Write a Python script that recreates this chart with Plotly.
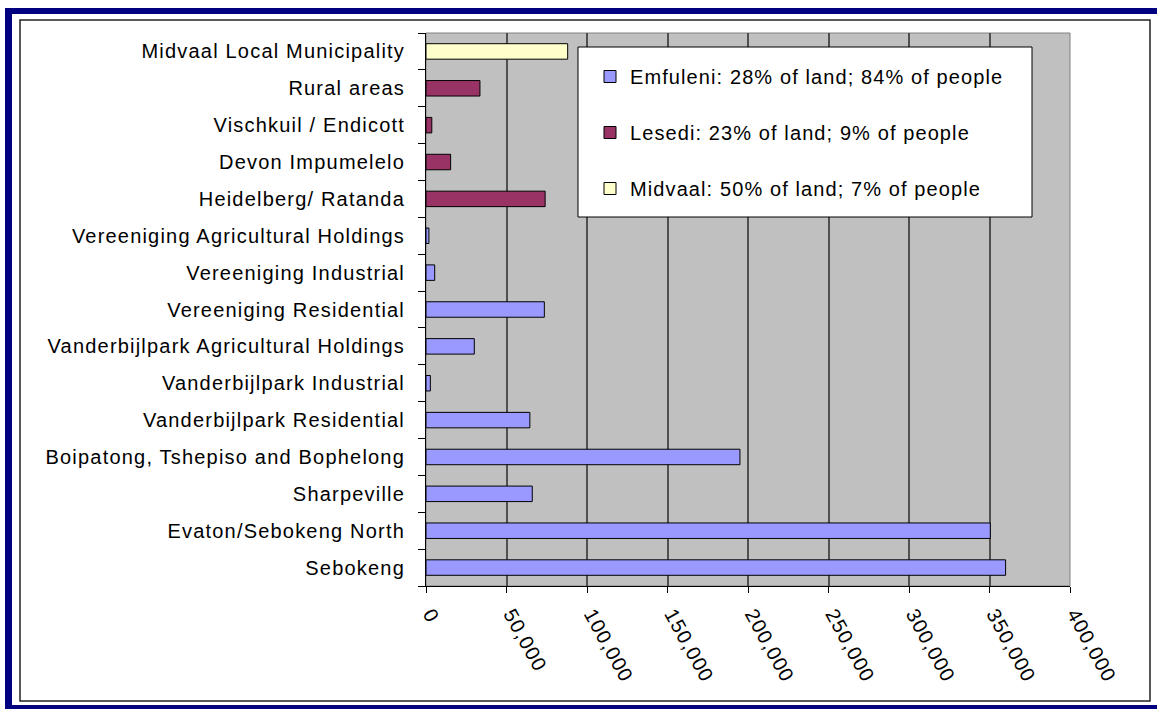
import plotly.graph_objects as go

# ---- data (bottom to top in display) ----
categories = [
    "Sebokeng",
    "Evaton/Sebokeng North",
    "Sharpeville",
    "Boipatong, Tshepiso and Bophelong",
    "Vanderbijlpark Residential",
    "Vanderbijlpark Industrial",
    "Vanderbijlpark Agricultural Holdings",
    "Vereeniging Residential",
    "Vereeniging Industrial",
    "Vereeniging Agricultural Holdings",
    "Heidelberg/ Ratanda",
    "Devon Impumelelo",
    "Vischkuil / Endicott",
    "Rural areas",
    "Midvaal Local Municipality",
]

emfuleni_cats = categories[0:10]
emfuleni_vals = [360000, 350500, 66000, 195000, 64500, 2700, 30000, 73500, 5400, 1800]

lesedi_cats = categories[10:14]
lesedi_vals = [74000, 15300, 3600, 33500]

midvaal_cats = categories[14:15]
midvaal_vals = [88000]

series_names = [
    "Emfuleni: 28% of land; 84% of people",
    "Lesedi: 23% of land; 9% of people",
    "Midvaal: 50% of land; 7% of people",
]
series_colors = ["#9999FF", "#993366", "#FFFFCC"]

x_ticks = [0, 50000, 100000, 150000, 200000, 250000, 300000, 350000, 400000]

FONT = "Liberation Sans, Arial, sans-serif"
FS = 20

# ---- layout geometry (pixels) ----
W, H = 1157, 709
L, R, T, B = 426, 1070, 33, 586


def px(x):
    return (x - L) / (R - L)


def py(y):
    return (B - y) / (B - T)


fig = go.Figure()
for name, cats, vals, col in zip(
    series_names,
    [emfuleni_cats, lesedi_cats, midvaal_cats],
    [emfuleni_vals, lesedi_vals, midvaal_vals],
    series_colors,
):
    fig.add_trace(
        go.Bar(
            y=cats,
            x=vals,
            name=name,
            orientation="h",
            width=0.42,
            marker=dict(color=col, line=dict(color="black", width=1)),
            legendgroup=name,
        )
    )

shapes = []
# outer navy frame pieces
shapes.append(dict(type="rect", xref="paper", yref="paper",
                   x0=px(5), x1=px(1157), y0=py(8), y1=py(14),
                   fillcolor="#000080", line=dict(width=0), layer="above"))
shapes.append(dict(type="rect", xref="paper", yref="paper",
                   x0=px(5), x1=px(12), y0=py(8), y1=py(709),
                   fillcolor="#000080", line=dict(width=0), layer="above"))
shapes.append(dict(type="rect", xref="paper", yref="paper",
                   x0=px(5), x1=px(1157), y0=py(705), y1=py(709),
                   fillcolor="#000080", line=dict(width=0), layer="above"))
# inner black border
shapes.append(dict(type="rect", xref="paper", yref="paper",
                   x0=px(20), x1=px(1150), y0=py(20), y1=py(701),
                   fillcolor="rgba(0,0,0,0)", line=dict(color="#222", width=1.5),
                   layer="above"))
# plot area border (gray)
shapes.append(dict(type="rect", xref="paper", yref="paper",
                   x0=0, x1=1, y0=0, y1=1,
                   fillcolor="rgba(0,0,0,0)", line=dict(color="#808080", width=1),
                   layer="below"))
# legend box
shapes.append(dict(type="rect", xref="paper", yref="paper",
                   x0=px(578), x1=px(1032), y0=py(47), y1=py(217),
                   fillcolor="white", line=dict(color="black", width=1),
                   layer="above"))

fig.update_layout(
    width=W,
    height=H,
    margin=dict(l=L, r=W - R, t=T, b=H - B, autoexpand=False),
    paper_bgcolor="white",
    plot_bgcolor="#C0C0C0",
    barmode="overlay",
    font=dict(family=FONT, size=FS, color="black"),
    showlegend=True,
    legend=dict(
        x=px(590),
        y=py(57),
        xanchor="left",
        yanchor="top",
        bgcolor="rgba(0,0,0,0)",
        borderwidth=0,
        tracegroupgap=27,
        font=dict(family=FONT, size=FS, color="black"),
        traceorder="grouped",
    ),
    shapes=shapes,
    xaxis=dict(
        range=[0, 400000],
        tickvals=x_ticks,
        tickformat=",d",
        tickangle=61,
        ticks="outside",
        ticklen=6,
        tickcolor="black",
        showline=True,
        linecolor="black",
        linewidth=1,
        showgrid=True,
        gridcolor="#505050",
        gridwidth=1.5,
        zeroline=False,
        ticklabelstandoff=2,
        ticklabelshift=5,
        tickfont=dict(family=FONT, size=FS, color="black"),
        fixedrange=True,
    ),
    yaxis=dict(
        type="category",
        categoryorder="array",
        categoryarray=categories,
        range=[-0.5, len(categories) - 0.5],
        tickson="boundaries",
        ticks="outside",
        ticklen=7,
        tickcolor="black",
        showline=True,
        linecolor="black",
        linewidth=1,
        showgrid=False,
        ticklabelstandoff=16,
        tickfont=dict(family=FONT, size=FS, color="black"),
        fixedrange=True,
    ),
)

post = """
document.body.style.margin = '0';
var st = document.createElement('style');
st.textContent = '.main-svg text { letter-spacing: 1.1px; } '
  + '.ytick text { letter-spacing: 1.2px; } '
  + '.legend g { clip-path: none !important; }';
document.head.appendChild(st);
"""

fig.write_html("out.html", post_script=post, config={"displayModeBar": False})
